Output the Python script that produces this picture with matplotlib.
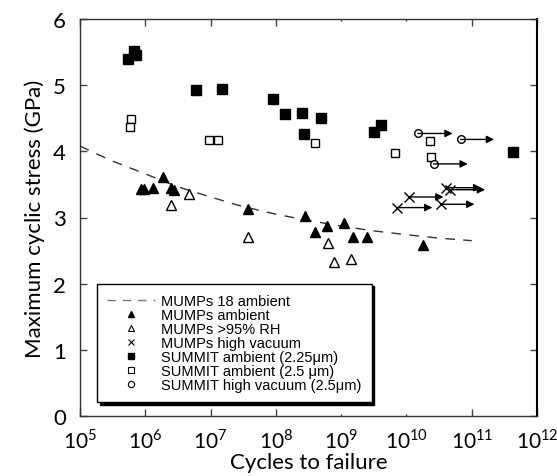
import numpy as np
import matplotlib
matplotlib.use('Agg')
import matplotlib.pyplot as plt
from matplotlib.lines import Line2D

# MUMPs 18 ambient fit (dashed)
fit_cycles = [1e5, 3e5, 1e6, 3e6, 1e7, 3e7, 1e8, 3e8, 1e9, 3e9, 1e10, 3e10, 1e11]
fit_stress = [4.08, 3.86, 3.66, 3.47, 3.31, 3.17, 3.05, 2.96, 2.87, 2.80, 2.74, 2.69, 2.65]

# MUMPs ambient (filled triangles)
mumps_amb_cycles = [8.5e5, 9.5e5, 1.3e6, 1.9e6, 2.5e6, 2.8e6, 3.7e7, 2.8e8, 4.0e8, 6.0e8,
                    1.1e9, 1.5e9, 2.5e9, 1.8e10]
mumps_amb_stress = [3.43, 3.43, 3.44, 3.61, 3.44, 3.41, 3.13, 3.02, 2.78, 2.87,
                    2.92, 2.70, 2.70, 2.59]

# MUMPs >95% RH (open triangles)
mumps_rh_cycles = [2.5e6, 4.6e6, 3.7e7, 6.3e8, 7.9e8, 1.4e9]
mumps_rh_stress = [3.19, 3.35, 2.71, 2.61, 2.33, 2.37]

# MUMPs high vacuum (crosses, run-outs with arrows)
mumps_hv_cycles = [7.1e9, 1.1e10, 3.4e10, 4.0e10, 4.6e10]
mumps_hv_end = [2.5e10, 3.7e10, 1.1e11, 1.4e11, 1.6e11]
mumps_hv_stress = [3.15, 3.31, 3.20, 3.45, 3.42]

# SUMMIT ambient 2.25 um (filled squares)
summit225_cycles = [5.5e5, 6.8e5, 7.1e5, 6.0e6, 1.5e7, 8.9e7, 1.4e8, 2.5e8, 2.7e8, 5.0e8,
                    3.2e9, 4.1e9, 4.3e11]
summit225_stress = [5.39, 5.52, 5.46, 4.92, 4.94, 4.79, 4.56, 4.58, 4.26, 4.50,
                    4.29, 4.40, 3.99]

# SUMMIT ambient 2.5 um (open squares)
summit25_cycles = [6.0e5, 5.8e5, 9.5e6, 1.3e7, 4.0e8, 6.8e9, 2.3e10, 2.4e10]
summit25_stress = [4.49, 4.37, 4.17, 4.17, 4.12, 3.98, 4.15, 3.91]

# SUMMIT high vacuum 2.5 um (open circles, run-outs with arrows)
summit_hv_cycles = [1.5e10, 6.8e10, 2.6e10]
summit_hv_end = [5.1e10, 2.2e11, 8.7e10]
summit_hv_stress = [4.27, 4.18, 3.81]

plt.rcParams['font.family'] = ['Lato', 'DejaVu Sans']
plt.rcParams['mathtext.fontset'] = 'custom'
plt.rcParams['mathtext.rm'] = 'Lato'

fig = plt.figure(figsize=(5.57, 4.77), dpi=100)
ax = fig.add_axes([80 / 557, 1 - 417 / 477, 457 / 557, 397 / 477])

ax.plot(fit_cycles, fit_stress, color='#333333', lw=1, dashes=(7, 6))

# arrows first so markers sit on top
for x0, x1, y in zip(mumps_hv_cycles, mumps_hv_end, mumps_hv_stress):
    ax.annotate('', xy=(x1, y), xytext=(x0, y),
                arrowprops=dict(arrowstyle='-|>', color='black', lw=1, mutation_scale=11,
                                shrinkA=0, shrinkB=0))
for x0, x1, y in zip(summit_hv_cycles, summit_hv_end, summit_hv_stress):
    ax.annotate('', xy=(x1, y), xytext=(x0, y),
                arrowprops=dict(arrowstyle='-|>', color='black', lw=1, mutation_scale=11,
                                shrinkA=0, shrinkB=0))

ax.plot(mumps_amb_cycles, mumps_amb_stress, '^', color='black', ms=7.5, ls='none')
ax.plot(mumps_rh_cycles, mumps_rh_stress, '^', mfc='white', mec='black', mew=1, ms=7, ls='none')
ax.plot(mumps_hv_cycles, mumps_hv_stress, 'x', color='black', mew=1, ms=7.5, ls='none')
ax.plot(summit225_cycles, summit225_stress, 's', color='black', ms=6.5, ls='none')
ax.plot(summit25_cycles, summit25_stress, 's', mfc='white', mec='black', mew=1, ms=6, ls='none')
ax.plot(summit_hv_cycles, summit_hv_stress, 'o', mfc='white', mec='black', mew=1, ms=5.5, ls='none')

ax.set_xscale('log')
ax.set_xlim(1e5, 1e12)
ax.set_ylim(0, 6)
xt = [10.0 ** k for k in range(5, 13)]
ax.set_xticks(xt)
ax.set_xticklabels(['10$^{%d}$' % k for k in range(5, 13)])
ax.xaxis.set_minor_locator(matplotlib.ticker.NullLocator())
ax.set_yticks([0, 1, 2, 3, 4, 5, 6])
ax.tick_params(axis='both', direction='in', length=5, width=1, color='#444444',
               top=True, right=True, labelsize=15)
ax.tick_params(axis='x', pad=8)
ax.tick_params(axis='y', pad=10, labelsize=16)
# the 10^9 and 10^10 ticks are barely visible in the original
for i in (4, 5):
    t = ax.xaxis.get_major_ticks()[i]
    t.tick1line.set_markersize(1.5)
    t.tick2line.set_markersize(1.5)
for s in ax.spines.values():
    s.set_color('#333333')
    s.set_linewidth(1)
ax.spines['right'].set_color('black')
ax.spines['right'].set_linewidth(1.5)

ax.set_xlabel('Cycles to failure', fontsize=16, labelpad=1)
ax.set_ylabel('Maximum cyclic stress (GPa)', fontsize=16, labelpad=6)

handles = [
    Line2D([], [], color='#777777', lw=1, dashes=(6, 5)),
    Line2D([], [], marker='^', color='black', ls='none', ms=5),
    Line2D([], [], marker='^', mfc='white', mec='black', mew=0.8, ls='none', ms=5),
    Line2D([], [], marker='x', color='black', mew=0.8, ls='none', ms=5),
    Line2D([], [], marker='s', color='black', ls='none', ms=5),
    Line2D([], [], marker='s', mfc='white', mec='black', mew=0.8, ls='none', ms=5),
    Line2D([], [], marker='o', mfc='white', mec='black', mew=0.8, ls='none', ms=4.5),
]
labels = ['MUMPs 18 ambient', 'MUMPs ambient', 'MUMPs >95% RH', 'MUMPs high vacuum',
          'SUMMIT ambient (2.25\u03bcm)', 'SUMMIT ambient (2.5 \u03bcm)',
          'SUMMIT high vacuum (2.5\u03bcm)']
leg = ax.legend(handles, labels, loc='lower left', bbox_to_anchor=(0.037, 0.035),
                borderaxespad=0, fancybox=False, edgecolor='black', framealpha=1,
                shadow={'color': 'black', 'alpha': 1},
                prop={'family': ['Liberation Sans', 'DejaVu Sans'], 'size': 10.5},
                handlelength=3.3, handletextpad=0.4, labelspacing=0.0, borderpad=0.7)
leg.get_frame().set_linewidth(1)

fig.savefig('out.png', dpi=100)
